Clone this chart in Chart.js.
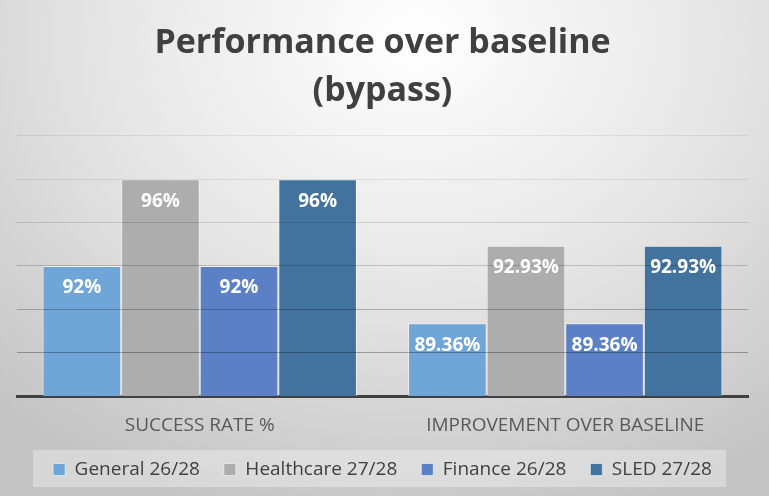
<!DOCTYPE html>
<html><head><meta charset="utf-8">
<script src="https://cdn.jsdelivr.net/npm/chart.js@4.4.1/dist/chart.umd.min.js"></script>
<style>
html,body{margin:0;padding:0;}
body{width:769px;height:496px;overflow:hidden;background:radial-gradient(ellipse 80% 100% at 54% 8%, #ffffff 0%, #e6e6e6 50%, #c4c4c4 100%);}
#wrap{position:relative;width:769px;height:496px;}
</style></head><body>
<div id="wrap"><canvas id="c"></canvas></div>
<script>
const categories = ['SUCCESS RATE %', 'IMPROVEMENT OVER BASELINE'];
const seriesNames = ['General 26/28', 'Healthcare 27/28', 'Finance 26/28', 'SLED 27/28'];
const generalValues = [92, 89.36];
const healthcareValues = [96, 92.93];
const financeValues = [92, 89.36];
const sledValues = [96, 92.93];
const yMin = 86, yMax = 98, yStep = 2;
const titleLines = ['Performance over baseline', '(bypass)'];

const seriesColors = ['#6fa5d7', '#adadad', '#5b80c6', '#42729e'];
const gridAlpha = [0, 0.30, 0.25, 0.18, 0.13, 0.09, 0.07];

const barLabels = {
  id: 'barLabels',
  afterDraw(chart) {
    const ctx = chart.ctx;
    ctx.save();
    ctx.font = 'bold 19px "Open Sans"';
    ctx.fillStyle = '#ffffff';
    ctx.textAlign = 'center';
    ctx.textBaseline = 'middle';
    chart.data.datasets.forEach((ds, i) => {
      chart.getDatasetMeta(i).data.forEach((bar, j) => {
        ctx.fillText(String(ds.data[j]) + '%', bar.x, bar.y + 22);
      });
    });
    ctx.restore();
  }
};

const legendBg = {
  id: 'legendBg',
  beforeDraw(chart) {
    const lg = chart.legend;
    if (!lg || !lg.legendHitBoxes || !lg.legendHitBoxes.length) return;
    const hb = lg.legendHitBoxes;
    const l = Math.min(...hb.map(h => h.left)) - 20;
    const r = Math.max(...hb.map(h => h.left + h.width)) + 14;
    const t = hb[0].top - 10;
    const b = hb[0].top + hb[0].height + 8;
    const ctx = chart.ctx;
    ctx.save();
    ctx.fillStyle = 'rgba(255,255,255,0.32)';
    ctx.fillRect(l, t, r - l, b - t);
    ctx.restore();
  }
};

const valueSets = [generalValues, healthcareValues, financeValues, sledValues];

new Chart(document.getElementById('c'), {
  type: 'bar',
  data: {
    labels: categories,
    datasets: seriesNames.map((name, i) => ({
      label: name,
      data: valueSets[i],
      backgroundColor: seriesColors[i],
      borderColor: 'rgba(255,255,255,0.55)',
      borderWidth: 1,
      categoryPercentage: 0.86,
      barPercentage: 1.0
    }))
  },
  options: {
    responsive: true,
    maintainAspectRatio: false,
    animation: false,
    layout: { padding: { left: 17, right: 21, top: 0, bottom: 7 } },
    plugins: {
      title: {
        display: true,
        text: titleLines,
        color: '#404040',
        font: { family: "'Open Sans', sans-serif", size: 34, weight: 'bold', lineHeight: 1.41 },
        padding: { top: 19, bottom: 21 }
      },
      legend: {
        display: true,
        position: 'bottom',
        labels: {
          color: '#404040',
          font: { family: "'Open Sans'", size: 19 },
          boxWidth: 12,
          boxHeight: 12,
          padding: 24
        }
      },
      tooltip: { enabled: false }
    },
    scales: {
      x: {
        grid: { display: false, drawTicks: false },
        border: { display: true, color: '#404040', width: 3 },
        ticks: { color: '#595959', font: { family: "'Open Sans'", size: 19 }, padding: 18 },
        afterFit: (scale) => { scale.height = 40; }
      },
      y: {
        min: yMin,
        max: yMax,
        ticks: { display: false, stepSize: yStep },
        border: { display: false },
        grid: {
          z: 1,
          drawTicks: false,
          lineWidth: 1,
          color: (c) => 'rgba(0,0,0,' + (gridAlpha[c.index] !== undefined ? gridAlpha[c.index] : 0.1) + ')'
        }
      }
    }
  },
  plugins: [legendBg, barLabels]
});
</script>
</body></html>
